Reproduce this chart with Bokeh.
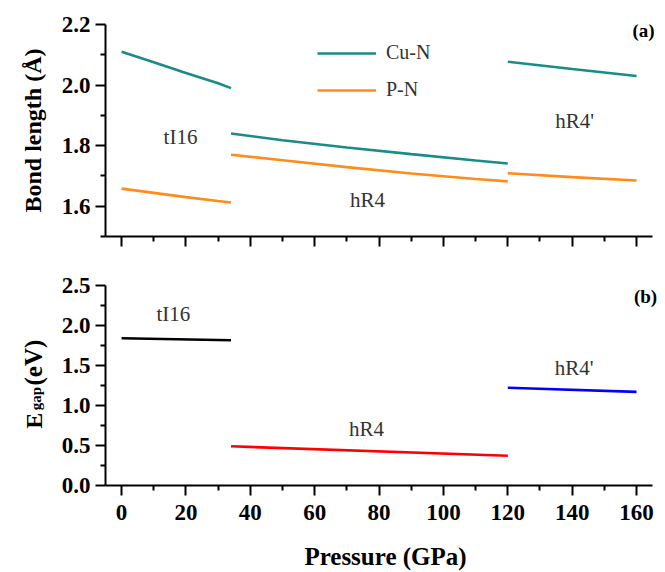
import math
from bokeh.plotting import figure
from bokeh.layouts import column, row
from bokeh.models import (Range1d, FixedTicker, NumeralTickFormatter, Label, Legend,
                          LegendItem, CustomJSTickFormatter)
from bokeh.embed import file_html
from bokeh.resources import INLINE

# ---------------- data ----------------
# panel (a): bond lengths (Angstrom) vs pressure (GPa)
tI16_P = [0, 10, 20, 30, 34]
tI16_CuN = [2.110, 2.075, 2.040, 2.006, 1.990]
tI16_PN = [1.658, 1.644, 1.630, 1.617, 1.612]

hR4_P = [34, 50, 70, 90, 110, 120]
hR4_CuN = [1.840, 1.818, 1.794, 1.772, 1.751, 1.741]
hR4_PN = [1.770, 1.752, 1.729, 1.708, 1.690, 1.682]

hR4p_P = [120, 140, 160]
hR4p_CuN = [2.077, 2.053, 2.030]
hR4p_PN = [1.709, 1.696, 1.685]

# panel (b): band gap (eV) vs pressure (GPa)
gap_tI16_P = [0, 34]
gap_tI16 = [1.840, 1.815]
gap_hR4_P = [34, 120]
gap_hR4 = [0.490, 0.372]
gap_hR4p_P = [120, 160]
gap_hR4p = [1.222, 1.170]

x_ticks = [0, 20, 40, 60, 80, 100, 120, 140, 160]
x_minor = [10, 30, 50, 70, 90, 110, 130, 150]
a_ticks = [1.6, 1.8, 2.0, 2.2]
a_minor = [1.5, 1.7, 1.9, 2.1]
b_ticks = [0.0, 0.5, 1.0, 1.5, 2.0, 2.5]
b_minor = [0.25, 0.75, 1.25, 1.75, 2.25]

# ---------------- styling ----------------
FONT = "Liberation Serif"
TEAL = "#178C88"
ORANGE = "#FF8C1A"
TXT = "#333333"
LW = 2.6


def style_axes(p):
    for ax in p.axis:
        ax.axis_line_width = 2
        ax.axis_line_color = "black"
        ax.major_tick_line_width = 2
        ax.minor_tick_line_width = 2
        ax.major_tick_out = 10
        ax.major_tick_in = 0
        ax.minor_tick_out = 5
        ax.minor_tick_in = 0
        ax.major_label_text_font = FONT
        ax.major_label_text_font_style = "bold"
        ax.major_label_text_font_size = "23px"
        ax.major_label_text_color = "black"
        ax.axis_label_text_font = FONT
        ax.axis_label_text_font_style = "bold"
        ax.axis_label_text_font_size = "24px"
        ax.axis_label_text_color = "black"
    p.grid.visible = False
    p.outline_line_color = None


def add_text(p, x, y, txt, size="21px", bold=False, color=TXT):
    p.add_layout(Label(x=x, y=y, text=txt, text_font=FONT, text_font_size=size,
                       text_font_style="bold" if bold else "normal",
                       text_color=color, text_align="center", text_baseline="middle"))


xr = Range1d(-5, 169)
X_BOUNDS = (-5, 165)
SIDE = 55  # width of the narrow panel holding the rotated E_gap title

# ---------------- panel (a) ----------------
p1 = figure(width=665, height=260, x_range=xr, y_range=Range1d(1.5, 2.2),
            output_backend="svg", toolbar_location=None,
            min_border_left=105, min_border_right=0, min_border_top=24, min_border_bottom=24)

r_cu = p1.line(tI16_P, tI16_CuN, line_color=TEAL, line_width=LW)
r_pn = p1.line(tI16_P, tI16_PN, line_color=ORANGE, line_width=LW)
p1.line(hR4_P, hR4_CuN, line_color=TEAL, line_width=LW)
p1.line(hR4_P, hR4_PN, line_color=ORANGE, line_width=LW)
p1.line(hR4p_P, hR4p_CuN, line_color=TEAL, line_width=LW)
p1.line(hR4p_P, hR4p_PN, line_color=ORANGE, line_width=LW)

style_axes(p1)
p1.xaxis.bounds = X_BOUNDS
p1.xaxis.ticker = FixedTicker(ticks=x_ticks, minor_ticks=x_minor)
p1.xaxis.formatter = CustomJSTickFormatter(code="return ''")
p1.xaxis.major_label_text_font_size = "1px"
p1.xaxis.major_label_standoff = 0
p1.yaxis.ticker = FixedTicker(ticks=a_ticks, minor_ticks=a_minor)
p1.yaxis.formatter = NumeralTickFormatter(format="0.0")
p1.yaxis.axis_label = "Bond length (Å)"
p1.yaxis.axis_label_standoff = 13

legend = Legend(items=[LegendItem(label="Cu-N", renderers=[r_cu]),
                       LegendItem(label="P-N", renderers=[r_pn])],
                location=(212, 135), border_line_color=None, background_fill_alpha=0,
                padding=0, margin=0, glyph_width=59, glyph_height=20, label_height=20,
                spacing=14, label_standoff=10, label_text_font=FONT,
                label_text_font_size="20px", label_text_color=TXT)
p1.add_layout(legend)

add_text(p1, 18.3, 1.827, "tI16")
add_text(p1, 76.4, 1.619, "hR4")
add_text(p1, 140.8, 1.883, "hR4'")
add_text(p1, 162.2, 2.18, "(a)", size="19px", bold=True, color="black")

# ---------------- panel (b) ----------------
p2 = figure(width=665 - SIDE, height=312, x_range=xr, y_range=Range1d(0, 2.5),
            output_backend="svg", toolbar_location=None,
            min_border_left=105 - SIDE, min_border_right=0, min_border_top=25,
            min_border_bottom=87)

p2.line(gap_tI16_P, gap_tI16, line_color="black", line_width=LW)
p2.line(gap_hR4_P, gap_hR4, line_color="#FF0000", line_width=LW)
p2.line(gap_hR4p_P, gap_hR4p, line_color="#0000FF", line_width=LW)

style_axes(p2)
p2.xaxis.bounds = X_BOUNDS
p2.xaxis.ticker = FixedTicker(ticks=x_ticks, minor_ticks=x_minor)
p2.xaxis.axis_label = "Pressure (GPa)"
p2.xaxis.axis_label_text_font_size = "25px"
p2.xaxis.axis_label_standoff = 20
p2.xaxis.major_label_standoff = 9
p2.yaxis.ticker = FixedTicker(ticks=b_ticks, minor_ticks=b_minor)
p2.yaxis.formatter = NumeralTickFormatter(format="0.0")

add_text(p2, 16.1, 2.14, "tI16")
add_text(p2, 76.1, 0.71, "hR4")
add_text(p2, 140.6, 1.47, "hR4'")
add_text(p2, 162.8, 2.36, "(b)", size="19px", bold=True, color="black")

# y-axis title of panel (b): "E" with subscript "gap", then "(eV)", in a narrow side panel
pl = figure(width=SIDE, height=312, x_range=Range1d(0, SIDE), y_range=p2.y_range,
            output_backend="svg", toolbar_location=None, x_axis_type=None, y_axis_type=None,
            min_border_left=0, min_border_right=0, min_border_top=25, min_border_bottom=87)
pl.grid.visible = False
pl.outline_line_color = None
for tx, ty, txt, sz in [(33, 0.71, "E", "24px"),
                        (35.5, 0.94, "gap", "15px"),
                        (33, 1.25, "(eV)", "25px")]:
    pl.add_layout(Label(x=tx, y=ty, text=txt, angle=math.pi / 2, text_font=FONT,
                        text_font_size=sz, text_font_style="bold", text_color="black",
                        text_align="left", text_baseline="alphabetic"))

layout = column(p1, row(pl, p2))
open("out.html", "w").write(file_html(layout, INLINE))
